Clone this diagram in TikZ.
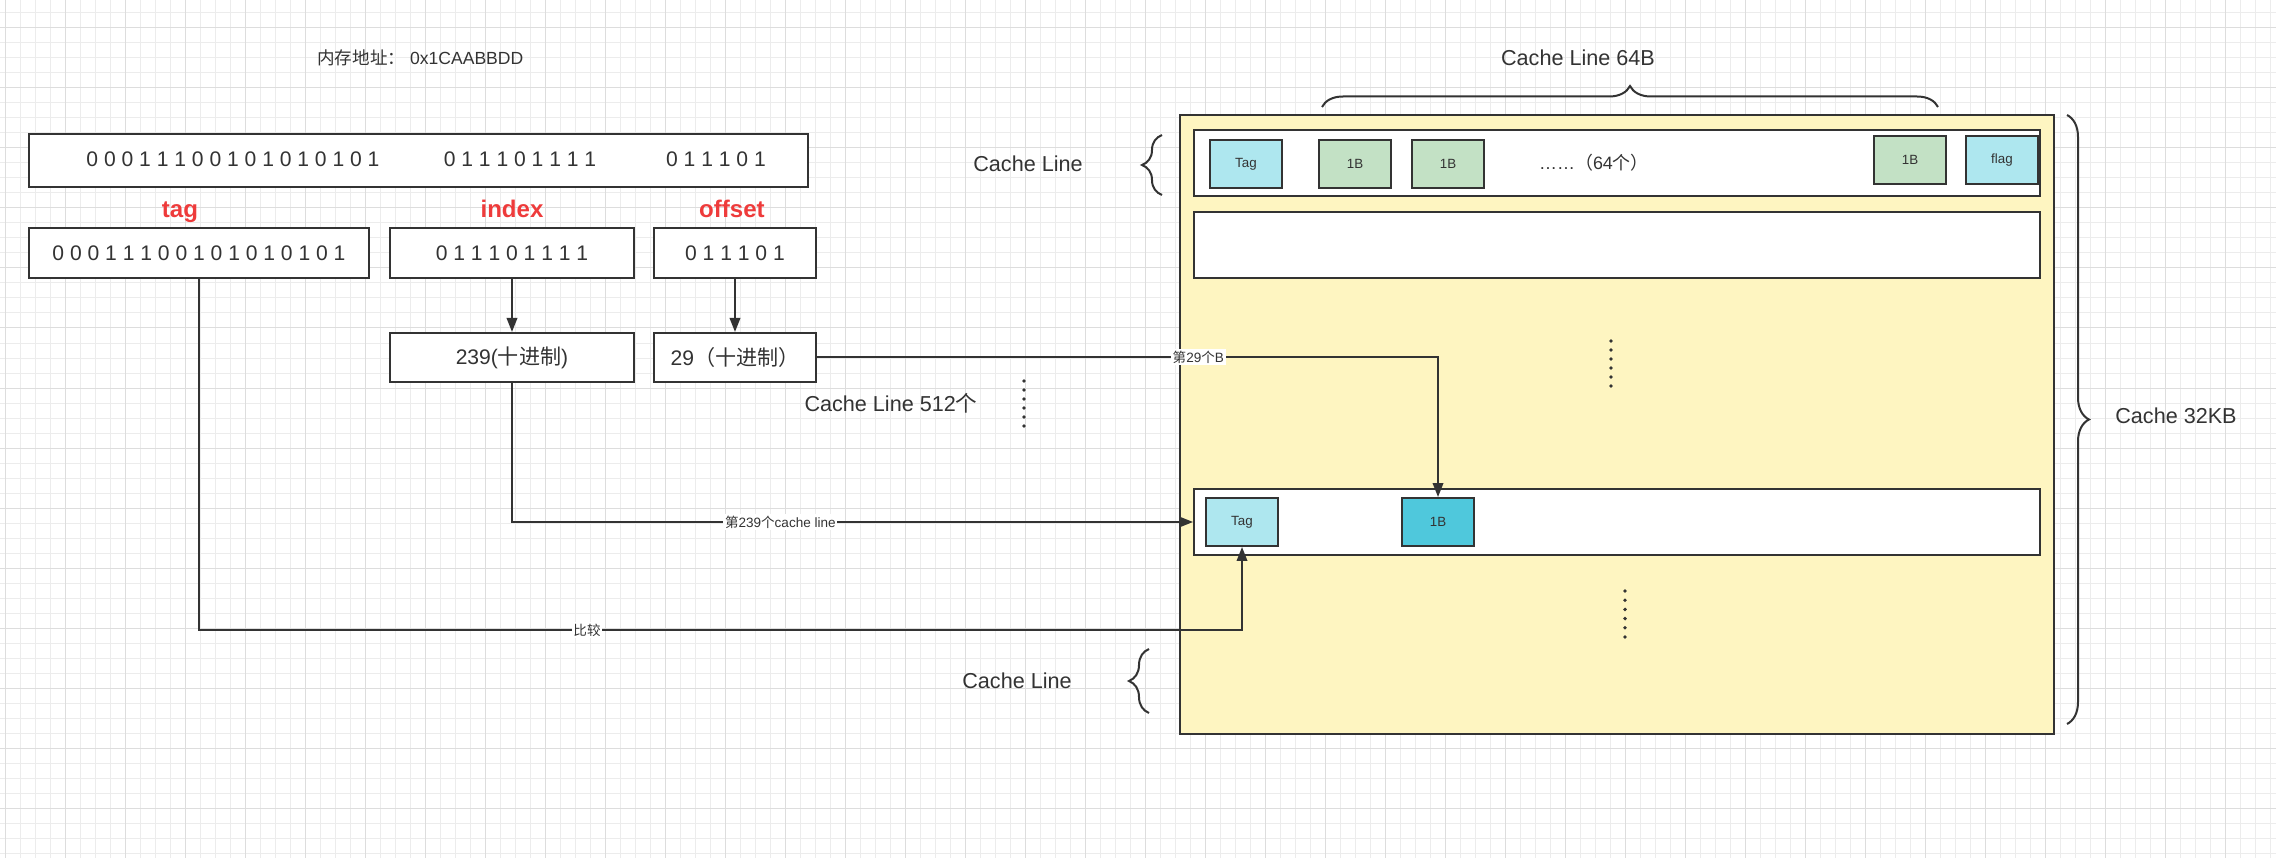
\documentclass[tikz,border=0pt]{standalone}
\usepackage{fontspec}
\setmainfont{Liberation Sans}
\newfontfamily\cjk{Noto Sans CJK SC}
\usepackage{tikz}
\usetikzlibrary{arrows.meta, positioning, decorations.pathreplacing}
\definecolor{ink}{HTML}{333333}
\definecolor{gridminor}{HTML}{ECECEC}
\definecolor{gridmajor}{HTML}{DDDDDD}
\definecolor{tagred}{HTML}{EE3B3B}
\definecolor{cacheyellow}{HTML}{FEF5C1}
\definecolor{tagcyan}{HTML}{AEE7EF}
\definecolor{bytegreen}{HTML}{C3E1C5}
\definecolor{hitcyan}{HTML}{4FC8DC}
\tikzset{
  grid_minor/.style={draw=gridminor, line width=0.02cm},
  grid_major/.style={draw=gridmajor, line width=0.02cm},
  bit_box/.style={rectangle, draw=ink, fill=white, line width=0.04cm, inner sep=0pt, text=ink, font=\fontsize{12}{14}\selectfont},
  bit_text/.style={inner sep=0pt, text=ink, font=\fontsize{12}{14}\selectfont},
  field_label/.style={inner sep=0pt, anchor=base, text=tagred, font=\fontsize{13.7}{16}\selectfont\bfseries},
  note_text/.style={inner sep=0pt, text=ink, font=\fontsize{12.3}{14}\selectfont},
  cache_box/.style={rectangle, draw=ink, fill=cacheyellow, line width=0.04cm, inner sep=0pt, minimum width=17.48cm, minimum height=12.38cm},
  cache_line/.style={rectangle, draw=ink, fill=white, line width=0.04cm, inner sep=0pt, minimum width=16.92cm, minimum height=1.32cm},
  small_box/.style={rectangle, draw=ink, line width=0.04cm, inner sep=0pt, minimum width=1.44cm, minimum height=0.96cm, text=ink, font=\fontsize{7.6}{9}\selectfont},
  tag_cell/.style={small_box, fill=tagcyan},
  byte_cell/.style={small_box, fill=bytegreen},
  hit_cell/.style={small_box, fill=hitcyan},
  edge_label/.style={fill=white, inner sep=1pt, text=ink, font=\fontsize{7.7}{9}\selectfont},
  arrow/.style={-{Triangle[length=0.28cm, width=0.21cm]}, line width=0.04cm, draw=ink},
  brace_line/.style={decorate, line width=0.04cm, draw=ink},
  dot/.style={fill=ink}
}

\begin{document}
\begin{tikzpicture}[x=0.02cm, y=-0.02cm]
\useasboundingbox (0,0) rectangle (2276,858);

% Grid
\foreach \gx in {5,20,...,2270} \draw[grid_minor] (\gx,0) -- (\gx,858);
\foreach \gy in {13,28,...,853} \draw[grid_minor] (0,\gy) -- (2276,\gy);
\foreach \gx in {5,65,...,2225} \draw[grid_major] (\gx,0) -- (\gx,858);
\foreach \gy in {28,88,...,808} \draw[grid_major] (0,\gy) -- (2276,\gy);

% Address
\node (addr) [note_text, font=\fontsize{10}{12}\selectfont, anchor=west] at (317,58) {{\cjk 内存地址：} 0x1CAABBDD};
\node (addrbox) [bit_box, minimum width=15.58cm, minimum height=1.06cm] at (418.5,160.5) {};
\node (addrtag) [bit_text] at (233,159) {0 0 0 1 1 1 0 0 1 0 1 0 1 0 1 0 1};
\node (addridx) [bit_text] at (520,159) {0 1 1 1 0 1 1 1 1};
\node (addroff) [bit_text] at (716,159) {0 1 1 1 0 1};

% Fields
\node (taglbl) [field_label] at (180,218) {tag};
\node (idxlbl) [field_label] at (512,218) {index};
\node (offlbl) [field_label] at (732,218) {offset};
\node (tagbox) [bit_box, minimum width=6.8cm, minimum height=1cm] at (199,253) {0 0 0 1 1 1 0 0 1 0 1 0 1 0 1 0 1};
\node (idxbox) [bit_box, minimum width=4.88cm, minimum height=1cm] at (512,253) {0 1 1 1 0 1 1 1 1};
\node (offbox) [bit_box, minimum width=3.24cm, minimum height=1cm] at (735,253) {0 1 1 1 0 1};
\node (idxdec) [bit_box, minimum width=4.88cm, minimum height=0.98cm, below=1.06cm of idxbox] {239({\cjk 十进制})};
\node (offdec) [bit_box, minimum width=3.24cm, minimum height=0.98cm, below=1.06cm of offbox] {29{\cjk （十进制）}};

\node (linecount) [note_text] at (891,403) {Cache Line 512{\cjk 个}};
\foreach \k in {0,...,5} \fill[dot] (1024,381+9*\k) circle (0.038cm);

% Cache
\node (cache) [cache_box] at (1617,424.5) {};
\node (line1) [cache_line] at (1617,163) {};
\node (line2) [cache_line] at (1617,245) {};
\node (hlline) [cache_line] at (1617,522) {};

\node (l1tag) [tag_cell] at (1246,164) {Tag};
\node (l1b1) [byte_cell] at (1355,164) {1B};
\node (l1b2) [byte_cell, right=0.38cm of l1b1] {1B};
\node (l1more) [bit_text, font=\fontsize{10.2}{12}\selectfont] at (1594,163) {……{\cjk （}64{\cjk 个）}};
\node (l1b3) [byte_cell] at (1910,160) {1B};
\node (l1flag) [tag_cell, right=0.36cm of l1b3] {flag};

\node (hltag) [tag_cell] at (1242,522) {Tag};
\node (hlbyte) [hit_cell] at (1438,522) {1B};

\foreach \k in {0,...,5} \fill[dot] (1611,341+9*\k) circle (0.038cm);
\foreach \k in {0,...,5} \fill[dot] (1625,591+9.2*\k) circle (0.038cm);

% Braces
\node (widthlbl) [note_text] at (1578,58) {Cache Line 64B};
\draw[brace_line, decoration={brace, amplitude=0.42cm}] (1322,107) -- (1938,107);
\node (linelbl) [note_text] at (1028,164) {Cache Line};
\draw[brace_line, decoration={brace, amplitude=0.4cm}] (1162,195) -- (1162,135);
\node (linelbl2) [note_text] at (1017,681) {Cache Line};
\draw[brace_line, decoration={brace, amplitude=0.4cm}] (1149,713) -- (1149,649);
\node (sizelbl) [note_text] at (2176,416) {Cache 32KB};
\draw[brace_line, decoration={brace, amplitude=0.44cm}] (2067,115) -- (2067,724);

% Connections
\draw[arrow] (idxbox) -- (idxdec);
\draw[arrow] (offbox) -- (offdec);
\draw[arrow] (offdec.east) -| node[edge_label, pos=0.307] {{\cjk 第}29{\cjk 个}B} (hlbyte.north);
\draw[arrow] (idxdec.south) |- node[edge_label, pos=0.697] {{\cjk 第}239{\cjk 个}cache line} (hlline.west);
\draw[arrow] (tagbox.south) -- ++(0,351) -| node[edge_label, pos=0.186] {\cjk 比较} (hltag.south);
\end{tikzpicture}
\end{document}
